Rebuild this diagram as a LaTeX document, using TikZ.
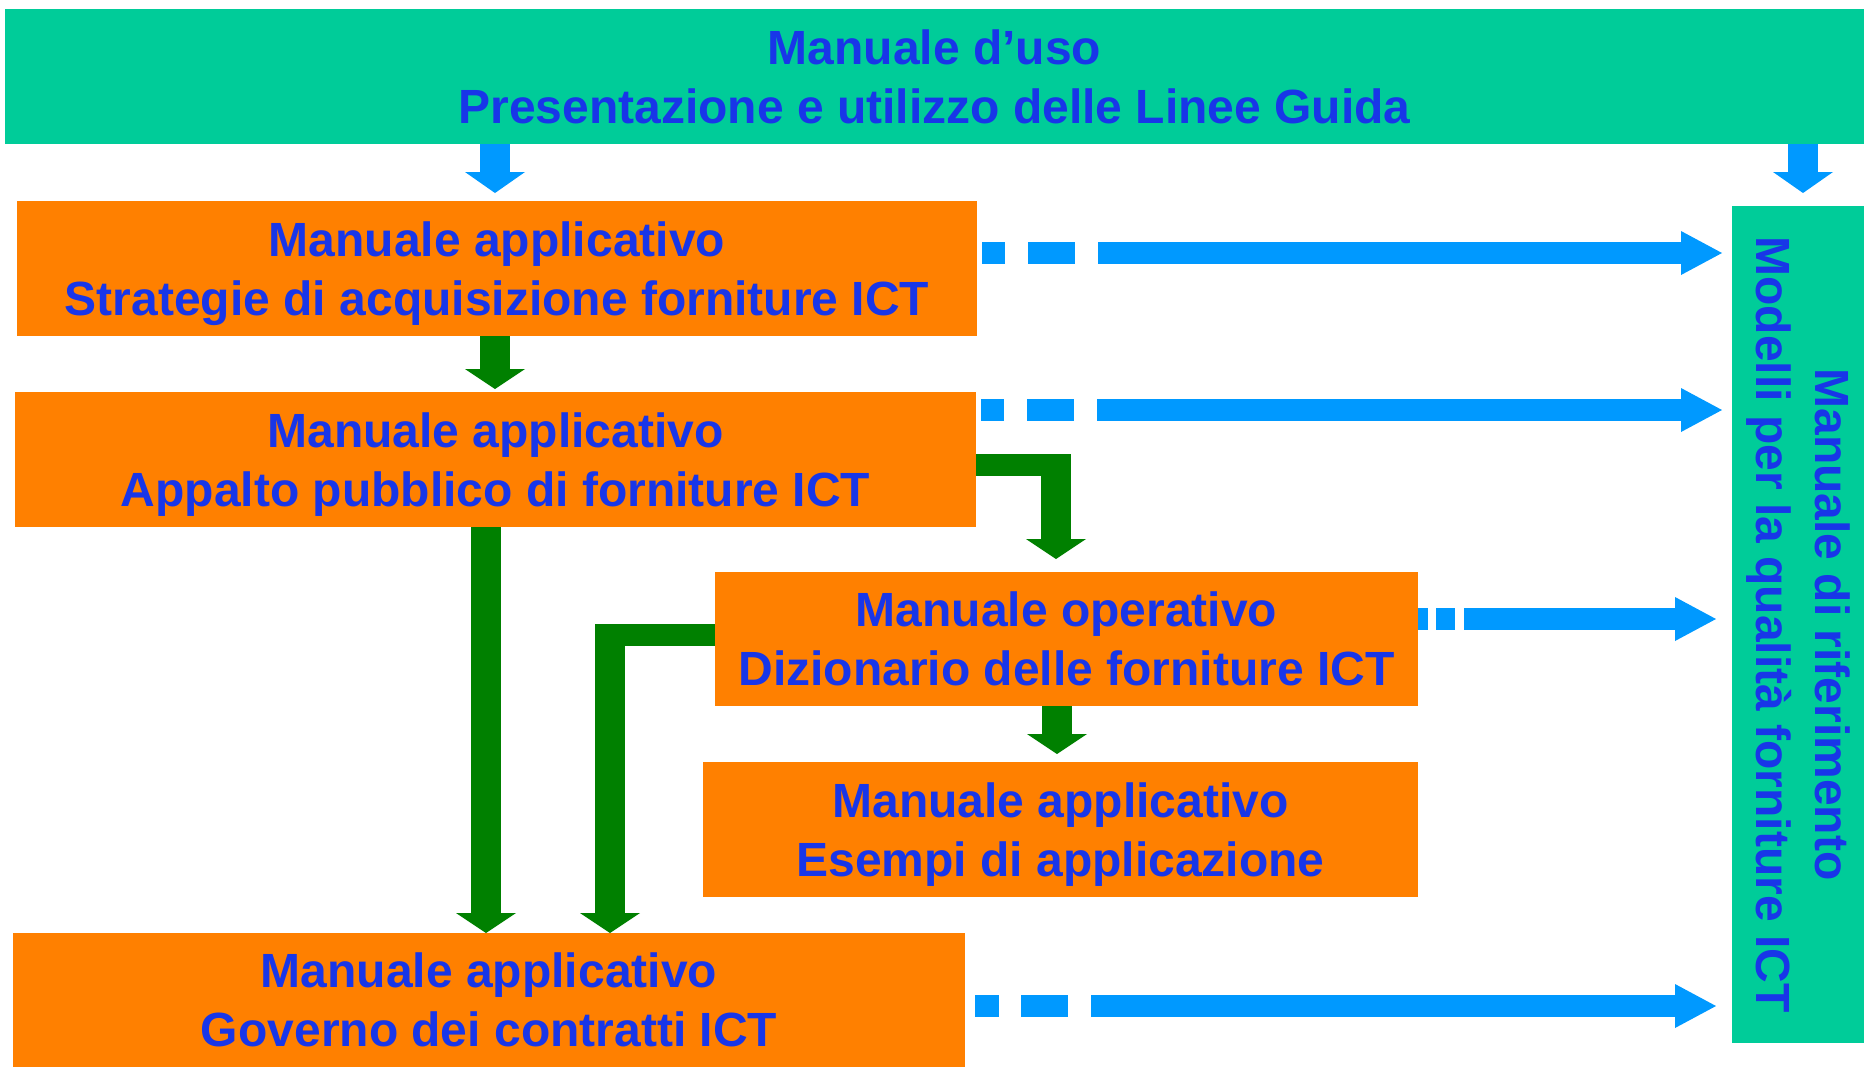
\documentclass[tikz,border=0pt]{standalone}
\usepackage{fontspec}
\setmainfont{Liberation Sans}
\usetikzlibrary{arrows.meta}
\begin{document}
\begin{tikzpicture}[x=0.5pt,y=-0.5pt,
  box/.style={inner sep=0pt,outer sep=0pt,align=center,text=textBlue,
    font=\fontsize{24pt}{29.5pt}\selectfont\bfseries},
  orangebox/.style={box,fill=boxOrange,text depth=0pt},
  greenbox/.style={box,fill=boxGreen},
  linkarrow/.style={draw=arrowBlue,line width=11pt,
    -{Triangle[length=20.5pt,width=22pt,line width=0pt]}},
  downarrow/.style={draw=arrowBlue,line width=15pt,
    -{Triangle[length=10.5pt,width=30pt,line width=0pt]}},
  flowarrow/.style={draw=flowGreen,line width=15pt,
    -{Triangle[length=10pt,width=30pt,line width=0pt]}},
  flowbar/.style={draw=flowGreen,line width=11pt}]
\definecolor{boxOrange}{RGB}{255,128,0}
\definecolor{boxGreen}{RGB}{0,204,153}
\definecolor{arrowBlue}{RGB}{0,153,255}
\definecolor{flowGreen}{RGB}{0,128,0}
\definecolor{textBlue}{RGB}{24,54,232}
\path[use as bounding box,fill=white] (0,0) rectangle (1864,1067);

\node[greenbox,minimum width=929.5pt,minimum height=67.5pt] (uso) at (934.5,76.5)
  {Manuale d’uso\\Presentazione e utilizzo delle Linee Guida};

\node[orangebox,minimum width=480pt,minimum height=67.5pt] (strat) at (497,268.5)
  {Manuale applicativo\\Strategie di acquisizione forniture ICT};

\node[orangebox,minimum width=480.5pt,minimum height=67.5pt] (app) at (495.5,459.5)
  {Manuale applicativo\\Appalto pubblico di forniture ICT};

\node[orangebox,minimum width=351.5pt,minimum height=67pt] (diz) at (1066.5,639)
  {Manuale operativo\\Dizionario delle forniture ICT};

\node[orangebox,minimum width=357.5pt,minimum height=67.5pt] (ese) at (1060.5,829.5)
  {Manuale applicativo\\Esempi di applicazione};

\node[orangebox,minimum width=476pt,minimum height=67pt] (gov) at (489,1000)
  {Manuale applicativo\\Governo dei contratti ICT};

\node[greenbox,minimum width=66pt,minimum height=418.5pt] (rif) at (1798,624.5) {};
\node[box,rotate=-90] (riftxt) at (rif.center)
  {Manuale di riferimento\\Modelli per la qualità forniture ICT};

\draw[downarrow,shorten >=4pt] (uso.south -| 495,0) -- (strat.north -| 495,0);
\draw[downarrow,shorten >=6.5pt] (uso.south -| 1803,0) -- (rif.north -| 1803,0);

\draw[flowarrow,shorten >=1.5pt] (strat.south -| 495,0) -- (app.north -| 495,0);
\draw[flowarrow] (app.south -| 486,0) -- (gov.north -| 486,0);
\draw[flowarrow,shorten >=4pt] (diz.south -| 1057,0) -- (ese.north -| 1057,0);

\coordinate (k1) at (1056,465);
\draw[flowbar] (app.east |- k1) -- ([xshift=7.5pt]k1);
\draw[flowarrow,shorten >=6.5pt] ([yshift=5.5pt]k1) -- (k1 |- diz.north);

\coordinate (k2) at (610,635);
\draw[flowbar] (diz.west |- k2) -- ([xshift=-7pt]k2);
\draw[flowarrow] ([yshift=5.5pt]k2) -- (k2 |- gov.north);

\draw[linkarrow,dash pattern=on 11.5pt off 11.5pt on 23.5pt off 11.5pt on 2000pt,
  shorten <=2.5pt,shorten >=5pt] (strat.east |- 0,253) -- (rif.west |- 0,253);
\draw[linkarrow,dash pattern=on 11.5pt off 11.5pt on 23.5pt off 11.5pt on 2000pt,
  shorten <=2.5pt,shorten >=5pt] (app.east |- 0,410) -- (rif.west |- 0,410);
\draw[linkarrow,dash pattern=on 5pt off 4pt on 9.5pt off 4.5pt on 2000pt,
  shorten >=8pt] (diz.east |- 0,619) -- (rif.west |- 0,619);
\draw[linkarrow,dash pattern=on 12pt off 11pt on 23.5pt off 11.5pt on 2000pt,
  shorten <=5pt,shorten >=8pt] (gov.east |- 0,1006) -- (rif.west |- 0,1006);
\end{tikzpicture}
\end{document}
